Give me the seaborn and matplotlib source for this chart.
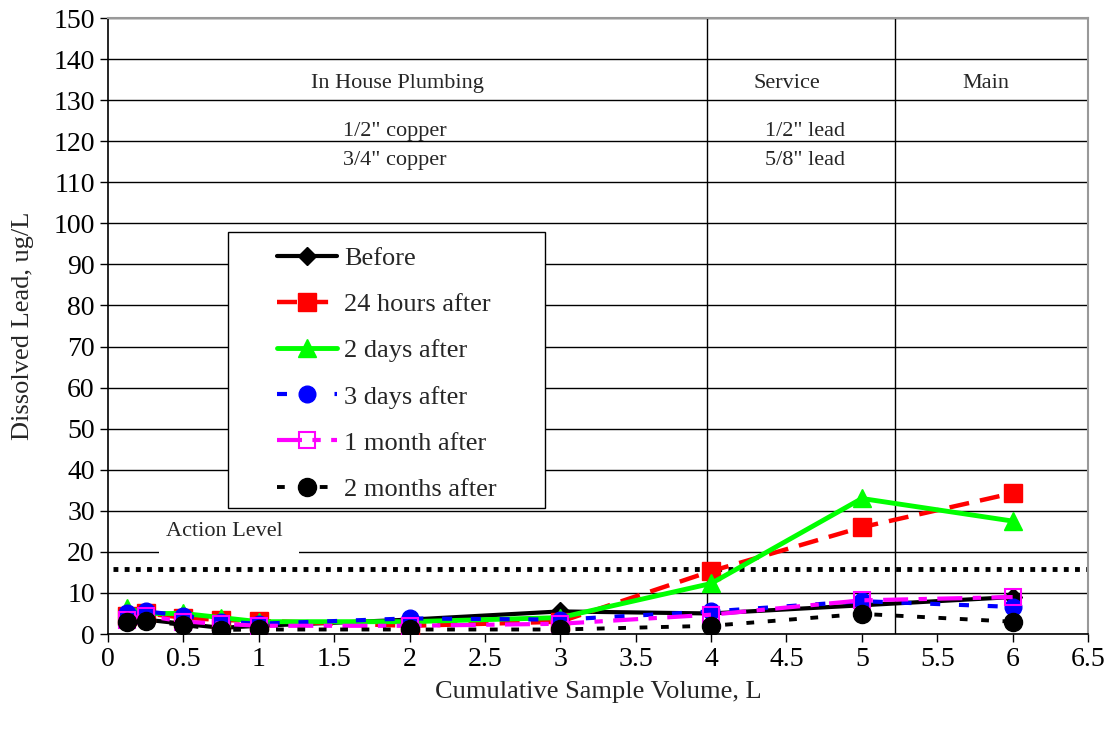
import numpy as np
import pandas as pd
import matplotlib
matplotlib.use('Agg')
import matplotlib.pyplot as plt
from matplotlib.patches import Rectangle
import seaborn as sns

# Daten
volume = [0.125, 0.25, 0.5, 0.75, 1, 2, 3, 4, 5, 6]
before = [3.5, 3.5, 2.5, 1.5, 2, 3.5, 5.5, 5, 7, 9]
h24_after = [4.5, 5, 4, 3.4, 3.2, 2, 3, 15.3, 26, 34.3]
d2_after = [6.3, 5, 5, 4, 3, 3, 4, 12.3, 33, 27.5]
d3_after = [5, 5.5, 4.5, 3, 2.5, 3.8, 3.5, 5.5, 8, 6.6]
m1_after = [3.5, 4.5, 3, 2.5, 2, 2, 2.5, 4.7, 8.2, 9]
m2_after = [3, 3.2, 2.2, 1, 1.1, 1.1, 1.1, 2, 4.9, 3]
action_level = 15.8

series_names = ['Before', '24 hours after', '2 days after', '3 days after',
                '1 month after', '2 months after']
series_values = [before, h24_after, d2_after, d3_after, m1_after, m2_after]

df = pd.DataFrame({
    'volume': np.tile(volume, len(series_names)),
    'lead': np.concatenate(series_values),
    'series': np.repeat(series_names, len(volume)),
})

sns.set_style('white')
plt.rcParams['font.family'] = ['Liberation Serif', 'DejaVu Serif']

styles = {
    'Before': dict(color='black', marker='D', ms=9, ls='-', lw=3, mfc='black', mec='black'),
    '24 hours after': dict(color='red', marker='s', ms=13, ls=(0, (4.5, 2.5)), lw=3.2, mfc='red', mec='red'),
    '2 days after': dict(color='#00ff00', marker='^', ms=13, ls='-', lw=3.5, mfc='#00ff00', mec='#00ff00'),
    '3 days after': dict(color='blue', marker='o', ms=12, ls=(0, (2.4, 4.5)), lw=3, mfc='blue', mec='blue'),
    '1 month after': dict(color='magenta', marker='s', ms=12, ls=(0, (6, 2.5, 2, 2.5)), lw=3, mfc='none', mec='magenta', mew=1.5),
    '2 months after': dict(color='black', marker='o', ms=13, ls=(0, (2, 3.5)), lw=2.8, mfc='black', mec='black'),
}

fig = plt.figure(figsize=(11.1, 7.35), dpi=100)
ax = fig.add_axes([0.0973, 0.1374, 0.8829, 0.8381])

ax.set_xlim(0, 6.5)
ax.set_ylim(0, 150)
ax.set_xticks(np.arange(0, 6.51, 0.5))
ax.set_xticklabels(['0', '0.5', '1', '1.5', '2', '2.5', '3', '3.5', '4', '4.5', '5', '5.5', '6', '6.5'])
ax.set_yticks(np.arange(0, 151, 10))
ax.set_axisbelow(True)
ax.yaxis.grid(True, color='black', lw=1)
ax.xaxis.grid(False)

# Trennlinien Service / Main
ax.axvline(3.97, color='black', lw=1, zorder=1.5)
ax.axvline(5.22, color='black', lw=1, zorder=1.5)

# Action Level
ax.axhline(action_level, xmin=0.005, color='black', lw=3.5, ls=(0, (1, 1.3)), zorder=1.6)
ax.add_patch(Rectangle((0.34, 18.5), 0.93, 10.5, facecolor='white', edgecolor='none', zorder=1.2))
ax.text(0.77, 25, 'Action Level', ha='center', va='center', fontsize=16, zorder=3)

for name in series_names:
    st = dict(styles[name])
    sub = df[df['series'] == name]
    sns.lineplot(data=sub, x='volume', y='lead', ax=ax, label=name, zorder=3,
                 color=st.pop('color'), marker=st.pop('marker'), markersize=st.pop('ms'),
                 linestyle=st.pop('ls'), linewidth=st.pop('lw'),
                 markerfacecolor=st.pop('mfc'), markeredgecolor=st.pop('mec'),
                 markeredgewidth=st.pop('mew', 1))

# Beschriftungen Rohrabschnitte
ax.text(1.92, 134.0, 'In House Plumbing', ha='center', va='center', fontsize=16)
ax.text(1.90, 122.3, '1/2" copper', ha='center', va='center', fontsize=16)
ax.text(1.90, 115.2, '3/4" copper', ha='center', va='center', fontsize=16)
ax.text(4.5, 134.0, 'Service', ha='center', va='center', fontsize=16)
ax.text(4.62, 122.3, '1/2" lead', ha='center', va='center', fontsize=16)
ax.text(4.62, 115.2, '5/8" lead', ha='center', va='center', fontsize=16)
ax.text(5.82, 134.0, 'Main', ha='center', va='center', fontsize=16)

# Legende mit eigenem Rahmen
ax.add_patch(Rectangle((0.1224, 0.2045), 0.3235, 0.4485, transform=ax.transAxes,
                       facecolor='white', edgecolor='black', lw=1, zorder=4))
leg = ax.legend(loc='upper left', bbox_to_anchor=(0.172, 0.629), frameon=False,
                fontsize=19, handlelength=2.3, handletextpad=0.27, labelspacing=0.86,
                borderpad=0, borderaxespad=0)
leg.set_zorder(5)

ax.set_xlabel('Cumulative Sample Volume, L', fontsize=19, labelpad=6)
ax.set_ylabel('Dissolved Lead, ug/L', fontsize=19, labelpad=14)
ax.tick_params(axis='both', labelsize=20, direction='out', length=6, width=1,
               bottom=True, left=True, colors='black')

for side in ['left', 'bottom']:
    ax.spines[side].set_color('black')
    ax.spines[side].set_linewidth(1.2)
for side in ['top', 'right']:
    ax.spines[side].set_color('#999999')
    ax.spines[side].set_linewidth(1.5)

fig.savefig('out.png', dpi=100)
